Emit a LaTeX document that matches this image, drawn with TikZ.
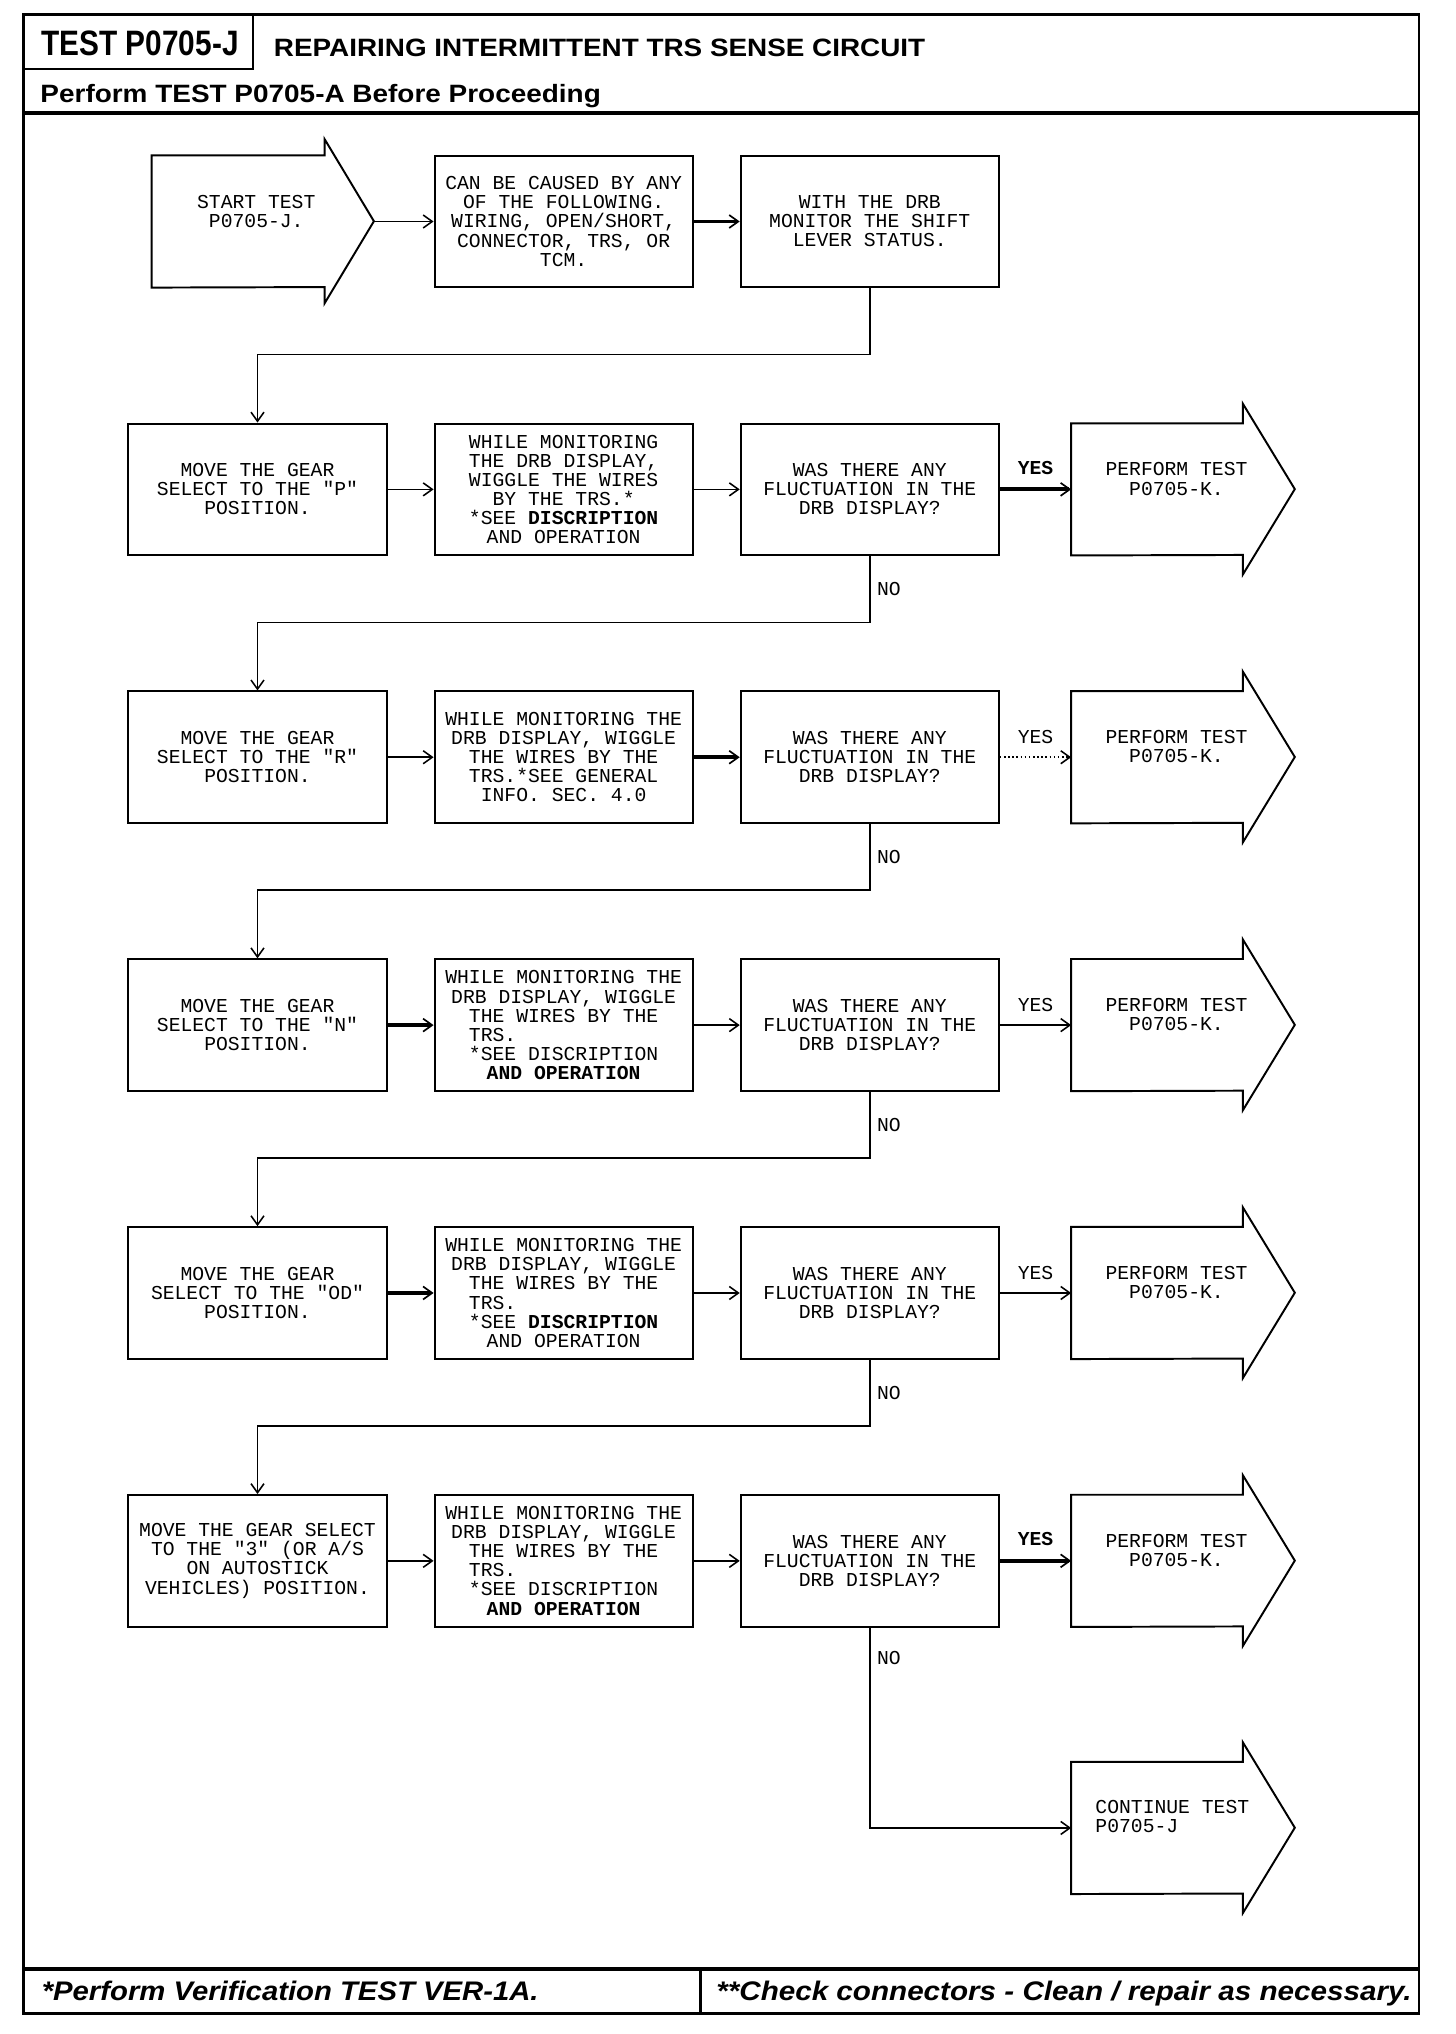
\documentclass[tikz,border=0pt]{standalone}
\usepackage{graphicx}
\usepackage{fontspec}
\setmainfont{Liberation Sans}
\newfontfamily\drbfont{Liberation Mono}
\usetikzlibrary{arrows.meta,positioning,calc}

\tikzset{
  drbtext/.style={font=\drbfont\fontsize{15.2pt}{14.7pt}\selectfont},
  stepbox/.style={drbtext, draw, line width=1.5pt, minimum width=199pt,
    minimum height=101.5pt, inner sep=0pt, align=center},
  arrowbody/.style={minimum width=132pt, minimum height=101.5pt, inner sep=0pt},
  startbody/.style={minimum width=133pt, minimum height=101.5pt, inner sep=0pt},
  arrowtext/.style={drbtext, inner sep=0pt, align=center},
  shapeline/.style={line width=1.5pt, line join=miter},
  yesno/.style={drbtext, inner sep=0pt},
  boldyes/.style={font=\drbfont\bfseries\fontsize{15.2pt}{14.7pt}\selectfont},
  thinline/.style={line width=1.2pt, -{Straight Barb[length=7pt,width=10pt]}},
  thickline/.style={line width=3pt, -{Straight Barb[length=7pt,width=10pt,line width=1.3pt]}},
}

\begin{document}
\begin{tikzpicture}[x=1pt,y=-1pt]
  \useasboundingbox (0,0) rectangle (1122,1568);

  % page frame and header
  \draw[line width=2pt] (18,11) rectangle (1094,1552);
  \draw[line width=1.5pt] (18,53) -- (195,53) -- (195,11);
  \draw[line width=3pt] (18,87) -- (1094,87);
  \node[anchor=base, inner sep=0pt] (testno) at (108,43)
    {\resizebox{152pt}{19pt}{\bfseries TEST P0705-J}};
  \node[anchor=base west, inner sep=0pt] (heading) at (211,43.5)
    {\resizebox{502pt}{13.5pt}{\bfseries REPAIRING INTERMITTENT TRS SENSE CIRCUIT}};
  \node[anchor=base west, inner sep=0pt] (before) at (31,79)
    {\resizebox{432pt}{14pt}{\bfseries Perform TEST P0705-A Before Proceeding}};

  % footer
  \draw[line width=3pt] (18,1518) -- (1094,1518);
  \draw[line width=2pt] (540,1518) -- (540,1552);
  \node[anchor=base west, inner sep=0pt] (verify) at (32,1542)
    {\resizebox{383pt}{15pt}{\bfseries\itshape *Perform Verification TEST VER-1A.}};
  \node[anchor=base west, inner sep=0pt] (check) at (552,1542)
    {\resizebox{536pt}{15pt}{\bfseries\itshape **Check connectors - Clean / repair as necessary.}};

  % first row
  \node[stepbox] (cause) at (434.5,170.75)
    {CAN BE CAUSED BY ANY\\OF THE FOLLOWING.\\WIRING, OPEN/SHORT,\\CONNECTOR, TRS, OR\\TCM.};
  \node[stepbox, right=35.5pt of cause] (monitor)
    {WITH THE DRB\\MONITOR THE SHIFT\\LEVER STATUS.};
  \node[startbody, left=84pt of cause] (start) {};
  \node[arrowtext] (starttext) at ($(start.center)+(14,-8)$) {START TEST\\P0705-J.};
  \draw[shapeline] (start.north west) -- (start.north east) -- ++(0,-12.5)
    -- ++(38,63.25) -- ++(-38,63.25) -- ++(0,-12.5) -- (start.south west) -- cycle;
  \coordinate (starttip) at ($(start.east)+(38,0)$);

  % "P" row
  \node[stepbox, below=103.5pt of cause] (wiggleP)
    {WHILE MONITORING\\THE DRB DISPLAY,\\WIGGLE THE WIRES\\BY THE TRS.*\\{*}SEE \textbf{DISCRIPTION}\\AND OPERATION};
  \node[stepbox, left=35.5pt of wiggleP] (moveP)
    {MOVE THE GEAR\\SELECT TO THE "P"\\POSITION.};
  \node[stepbox, right=35.5pt of wiggleP] (askP)
    {WAS THERE ANY\\FLUCTUATION IN THE\\DRB DISPLAY?};
  \node[arrowbody, right=55pt of askP] (perfP) {};

  % "R" row
  \node[stepbox, below=103.5pt of wiggleP] (wiggleR)
    {WHILE MONITORING THE\\DRB DISPLAY, WIGGLE\\THE WIRES BY THE\\TRS.*SEE GENERAL\\INFO. SEC. 4.0};
  \node[stepbox, left=35.5pt of wiggleR] (moveR)
    {MOVE THE GEAR\\SELECT TO THE "R"\\POSITION.};
  \node[stepbox, right=35.5pt of wiggleR] (askR)
    {WAS THERE ANY\\FLUCTUATION IN THE\\DRB DISPLAY?};
  \node[arrowbody, right=55pt of askR] (perfR) {};

  % "N" row
  \node[stepbox, below=103.5pt of wiggleR] (wiggleN)
    {WHILE MONITORING THE\\DRB DISPLAY, WIGGLE\\THE WIRES BY THE\\\rlap{TRS.}\phantom{THE WIRES BY THE}\\{*}SEE DISCRIPTION\\\textbf{AND OPERATION}};
  \node[stepbox, left=35.5pt of wiggleN] (moveN)
    {MOVE THE GEAR\\SELECT TO THE "N"\\POSITION.};
  \node[stepbox, right=35.5pt of wiggleN] (askN)
    {WAS THERE ANY\\FLUCTUATION IN THE\\DRB DISPLAY?};
  \node[arrowbody, right=55pt of askN] (perfN) {};

  % "OD" row
  \node[stepbox, below=103.5pt of wiggleN] (wiggleOD)
    {WHILE MONITORING THE\\DRB DISPLAY, WIGGLE\\THE WIRES BY THE\\\rlap{TRS.}\phantom{THE WIRES BY THE}\\{*}SEE \textbf{DISCRIPTION}\\AND OPERATION};
  \node[stepbox, left=35.5pt of wiggleOD] (moveOD)
    {MOVE THE GEAR\\SELECT TO THE "OD"\\POSITION.};
  \node[stepbox, right=35.5pt of wiggleOD] (askOD)
    {WAS THERE ANY\\FLUCTUATION IN THE\\DRB DISPLAY?};
  \node[arrowbody, right=55pt of askOD] (perfOD) {};

  % "3" row
  \node[stepbox, below=103.5pt of wiggleOD] (wiggle3)
    {WHILE MONITORING THE\\DRB DISPLAY, WIGGLE\\THE WIRES BY THE\\\rlap{TRS.}\phantom{THE WIRES BY THE}\\{*}SEE DISCRIPTION\\\textbf{AND OPERATION}};
  \node[stepbox, left=35.5pt of wiggle3] (move3)
    {MOVE THE GEAR SELECT\\TO THE "3" (OR A/S\\ON AUTOSTICK\\VEHICLES) POSITION.};
  \node[stepbox, right=35.5pt of wiggle3] (ask3)
    {WAS THERE ANY\\FLUCTUATION IN THE\\DRB DISPLAY?};
  \node[arrowbody, right=55pt of ask3] (perf3) {};

  % continue arrow
  \node[arrowbody, below=104pt of perf3] (goon) {};
  \node[arrowtext, anchor=west, align=left] (goontext) at ($(goon.west)+(18.5,-8.5)$)
    {CONTINUE TEST\\P0705-J};

  % the big arrows
  \foreach \p in {perfP,perfR,perfN,perfOD,perf3,goon}
    \draw[shapeline] (\p.north west) -- (\p.north east) -- ++(0,-15)
      -- ++(40,65.75) -- ++(-40,65.75) -- ++(0,-15) -- (\p.south west) -- cycle;
  \foreach \p in {perfP,perfR,perfN,perfOD,perf3}
    \node[arrowtext] (\p text) at ($(\p.center)+(15,-8)$) {PERFORM TEST\\P0705-K.};

  % connectors
  \draw[thinline] (starttip) -- (cause.west);
  \draw[thickline] (cause) -- (monitor);
  \draw[thinline] (monitor.south) -- ++(0,51) -| (moveP.north);

  \draw[thinline] (moveP) -- (wiggleP);
  \draw[thinline] (wiggleP) -- (askP);
  \draw[thickline] (askP) -- (perfP.west) node[yesno, boldyes, midway, above=10pt] (yesP) {YES};
  \draw[thinline] (askP.south) -- ++(0,51) node[yesno, midway, right=5pt] (noP) {NO} -| (moveR.north);

  \draw[thinline] (moveR) -- (wiggleR);
  \draw[thickline] (wiggleR) -- (askR);
  \draw[thinline, dotted] (askR) -- (perfR.west) node[yesno, midway, above=10pt] (yesR) {YES};
  \draw[thinline] (askR.south) -- ++(0,51) node[yesno, midway, right=5pt] (noR) {NO} -| (moveN.north);

  \draw[thickline] (moveN) -- (wiggleN);
  \draw[thinline] (wiggleN) -- (askN);
  \draw[thinline] (askN) -- (perfN.west) node[yesno, midway, above=10pt] (yesN) {YES};
  \draw[thinline] (askN.south) -- ++(0,51) node[yesno, midway, right=5pt] (noN) {NO} -| (moveOD.north);

  \draw[thickline] (moveOD) -- (wiggleOD);
  \draw[thinline] (wiggleOD) -- (askOD);
  \draw[thinline] (askOD) -- (perfOD.west) node[yesno, midway, above=10pt] (yesOD) {YES};
  \draw[thinline] (askOD.south) -- ++(0,51) node[yesno, midway, right=5pt] (noOD) {NO} -| (move3.north);

  \draw[thinline] (move3) -- (wiggle3);
  \draw[thinline] (wiggle3) -- (ask3);
  \draw[thickline] (ask3) -- (perf3.west) node[yesno, boldyes, midway, above=10pt] (yes3) {YES};
  \draw[thinline] (ask3.south) |- (goon.west) node[yesno, pos=0.075, right=5pt] (no3) {NO};
\end{tikzpicture}
\end{document}
